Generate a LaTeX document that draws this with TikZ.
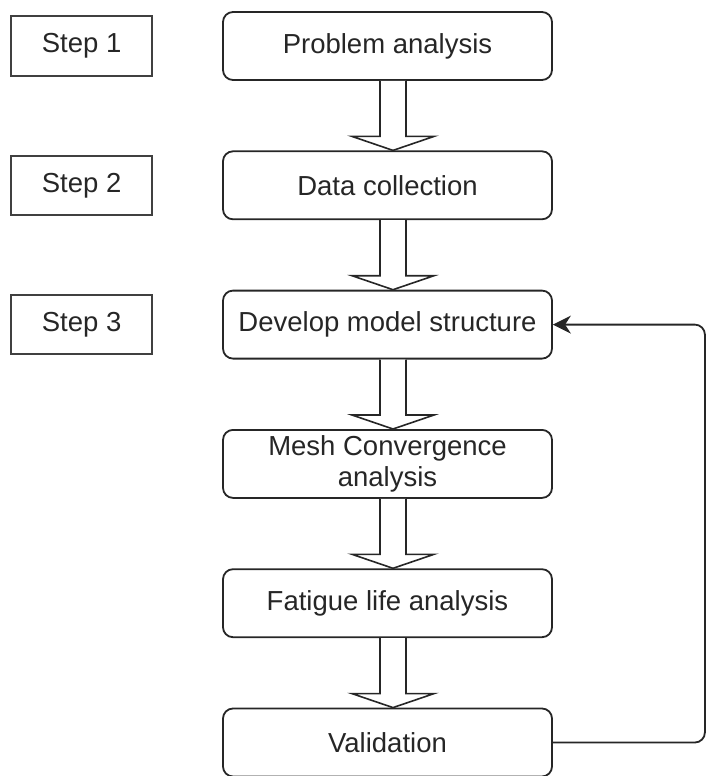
\documentclass[tikz,border=0pt]{standalone}
\usepackage{fontspec}
\setmainfont{Liberation Sans}
\usepackage{tikz}
\usetikzlibrary{positioning, arrows.meta}

\begin{document}
\begin{tikzpicture}[x=1pt, y=-1pt, font=\fontsize{27.5}{31}\selectfont, node distance=69.5pt, process/.style={rectangle, draw=black!85, line width=1.8pt, minimum width=329pt, minimum height=68pt, rounded corners=10pt, align=center, text=black!85}, stepbox/.style={rectangle, draw=black!75, line width=2pt, minimum width=141pt, minimum height=59pt, text=black!85}, blockarrow/.style={draw=black!85, line width=1.6pt, fill=white, line join=miter}, feedback/.style={draw=black!85, line width=1.8pt, rounded corners=10pt, -{Stealth[length=18pt, width=18pt]}}]

    \path[use as bounding box, clip] (0,0) rectangle (706,776);

    % Nodes
    \node[process]  (problem)   at (387.5,46)           {Problem analysis};
    \node[process]  (data)      [below=of problem]      {Data collection};
    \node[process]  (develop)   [below=of data]         {Develop model structure};
    \node[process]  (mesh)      [below=of develop]      {Mesh Convergence\\analysis};
    \node[process]  (fatigue)   [below=of mesh]         {Fatigue life analysis};
    \node[process]  (valid)     [below=of fatigue]      {Validation};

    \node[stepbox]  (step1)     [left=69pt of problem]  {Step 1};
    \node[stepbox]  (step2)     [left=69pt of data]     {Step 2};
    \node[stepbox]  (step3)     [left=69pt of develop]  {Step 3};

    % Lines ---------------
    \draw[blockarrow] ([xshift=-7.5pt]problem.south) -- ([xshift=-7.5pt,yshift=14pt]data.north) -- ([xshift=-35.5pt,yshift=14pt]data.north) -- ([xshift=5.5pt]data.north) -- ([xshift=46.5pt,yshift=14pt]data.north) -- ([xshift=18.5pt,yshift=14pt]data.north) -- ([xshift=18.5pt]problem.south);
    \draw[blockarrow] ([xshift=-7.5pt]data.south) -- ([xshift=-7.5pt,yshift=14pt]develop.north) -- ([xshift=-35.5pt,yshift=14pt]develop.north) -- ([xshift=5.5pt]develop.north) -- ([xshift=46.5pt,yshift=14pt]develop.north) -- ([xshift=18.5pt,yshift=14pt]develop.north) -- ([xshift=18.5pt]data.south);
    \draw[blockarrow] ([xshift=-7.5pt]develop.south) -- ([xshift=-7.5pt,yshift=14pt]mesh.north) -- ([xshift=-35.5pt,yshift=14pt]mesh.north) -- ([xshift=5.5pt]mesh.north) -- ([xshift=46.5pt,yshift=14pt]mesh.north) -- ([xshift=18.5pt,yshift=14pt]mesh.north) -- ([xshift=18.5pt]develop.south);
    \draw[blockarrow] ([xshift=-7.5pt]mesh.south) -- ([xshift=-7.5pt,yshift=14pt]fatigue.north) -- ([xshift=-35.5pt,yshift=14pt]fatigue.north) -- ([xshift=5.5pt]fatigue.north) -- ([xshift=46.5pt,yshift=14pt]fatigue.north) -- ([xshift=18.5pt,yshift=14pt]fatigue.north) -- ([xshift=18.5pt]mesh.south);
    \draw[blockarrow] ([xshift=-7.5pt]fatigue.south) -- ([xshift=-7.5pt,yshift=14pt]valid.north) -- ([xshift=-35.5pt,yshift=14pt]valid.north) -- ([xshift=5.5pt]valid.north) -- ([xshift=46.5pt,yshift=14pt]valid.north) -- ([xshift=18.5pt,yshift=14pt]valid.north) -- ([xshift=18.5pt]fatigue.south);

    \draw[feedback] (valid.east) -| ([xshift=152pt]develop.east) -- (develop.east);

\end{tikzpicture}
\end{document}
